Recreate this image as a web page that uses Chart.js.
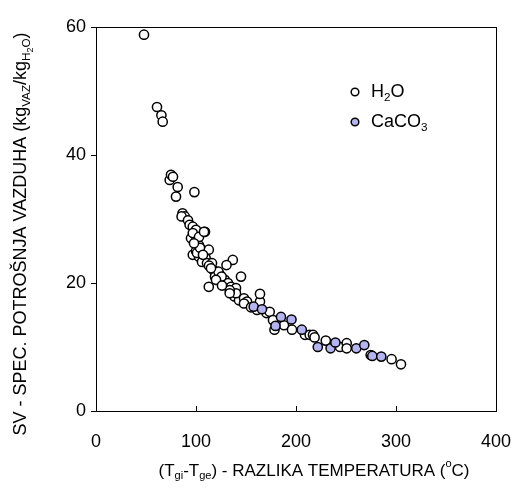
<!DOCTYPE html>
<html>
<head>
<meta charset="utf-8">
<script src="https://cdn.jsdelivr.net/npm/chart.js"></script>
<style>
  html, body { margin: 0; padding: 0; background: #fff; }
  #wrap { width: 531px; height: 495px; }
</style>
</head>
<body>
<div id="wrap"><canvas id="chart" width="531" height="495"></canvas></div>
<script>
// H2O series (x = temperature difference, y = specific air consumption)
const h2oX = [48, 61, 65.4, 66.7, 73.7, 75, 77, 81.7, 80, 98.4,
  86.5, 88.8, 85.6, 92, 93.6, 96.8, 100, 109, 95, 100,
  103, 96.8, 103, 106, 96.8, 103, 109.6, 106, 111, 136.8,
  130.5, 117.6, 120.8, 124, 119, 112.8, 128.8, 132, 135, 140,
  145, 138.5, 143, 140, 112.8, 116, 122.4, 125.6, 133.7, 148,
  151, 164, 164, 161, 170.5, 173.7, 177, 178.5, 188, 196,
  209, 213.7, 217, 218.6, 229.8, 244, 250.7, 250.7, 274.7, 295.6,
  305, 148, 133.7, 100, 101, 104, 107, 98, 113, 115,
  120, 126, 155, 108];
const h2oY = [58.8, 47.5, 46.2, 45.2, 36.1, 36.9, 36.6, 35.0, 33.5, 34.2,
  30.9, 30.4, 30.4, 29.8, 29.1, 28.8, 28.3, 28.0, 27.0, 26.6,
  25.9, 27.8, 27.2, 25.2, 24.4, 24.1, 23.9, 23.3, 23.1, 23.6,
  22.8, 22.0, 21.5, 21.3, 21.0, 19.4, 20.5, 20.0, 19.4, 19.2,
  21.0, 17.9, 17.3, 18.4, 25.2, 23.1, 21.8, 21.0, 18.9, 17.6,
  17.1, 17.1, 18.3, 15.8, 15.3, 15.5, 14.2, 12.7, 13.4, 12.7,
  11.9, 11.9, 11.9, 11.5, 11.0, 10.0, 10.6, 9.8, 8.75, 8.1,
  7.3, 16.8, 18.4, 25.0, 24.7, 25.5, 24.4, 26.2, 22.7, 22.3,
  20.5, 19.6, 16.2, 28.0];

// CaCO3 series
const calcX = [157.7, 166, 179.5, 185, 195.5, 205.8, 221.8, 234.6, 239.4, 260.3, 268.3, 276.3, 285.3];
const calcY = [16.3, 15.9, 13.3, 14.7, 14.3, 12.7, 10.0, 9.8, 10.7, 9.8, 10.3, 8.6, 8.5];

const xTicks = [0, 100, 200, 300, 400];
const yTicks = [0, 20, 40, 60];

// rich text pieces: [text, kind]
const xTitle = [['(T', ''], ['gi', 'sub'], ['-T', ''], ['ge', 'sub'], [') - RAZLIKA TEMPERATURA (', ''], ['o', 'sup'], ['C)', '']];
const yTitle = [['SV - SPEC. POTROŠNJA VAZDUHA (kg', ''], ['VAZ', 'sub'], ['/kg', ''], ['H', 'sub'], ['2', 'subsub'], ['O', 'sub'], [')', '']];
const legendItems = [
  { parts: [['H', ''], ['2', 'sub'], ['O', '']], fill: '#ffffff' },
  { parts: [['CaCO', ''], ['3', 'sub']], fill: '#b4b4f0' }
];

const FONT = '"Liberation Sans", Arial, sans-serif';

function partStyle(kind, size) {
  if (kind === 'sub') return { s: size * 0.65, dy: size * 0.3 };
  if (kind === 'sup') return { s: size * 0.65, dy: -size * 0.42 };
  if (kind === 'subsub') return { s: size * 0.5, dy: size * 0.55 };
  return { s: size, dy: 0 };
}

function richWidth(ctx, parts, size) {
  let w = 0;
  parts.forEach(function(p) {
    const st = partStyle(p[1], size);
    ctx.font = st.s + 'px ' + FONT;
    w += ctx.measureText(p[0]).width;
  });
  return w;
}

function drawRich(ctx, parts, size, x, y) {
  ctx.textBaseline = 'middle';
  ctx.textAlign = 'left';
  let cx = x;
  parts.forEach(function(p) {
    const st = partStyle(p[1], size);
    ctx.font = st.s + 'px ' + FONT;
    ctx.fillText(p[0], cx, y + st.dy);
    cx += ctx.measureText(p[0]).width;
  });
}

const extras = {
  id: 'extras',
  afterDraw(chart) {
    const ctx = chart.ctx;
    const a = chart.chartArea;
    const xs = chart.scales.x;
    ctx.save();
    // frame
    ctx.strokeStyle = '#000';
    ctx.lineWidth = 1;
    ctx.strokeRect(Math.round(a.left) + 0.5, Math.round(a.top) + 0.5, Math.round(a.right - a.left), Math.round(a.bottom - a.top));
    // inside x ticks
    ctx.beginPath();
    xTicks.forEach(function(v) {
      const px = Math.round(xs.getPixelForValue(v)) + 0.5;
      ctx.moveTo(px, a.bottom);
      ctx.lineTo(px, a.bottom - 5);
    });
    ctx.stroke();
    ctx.fillStyle = '#000';
    // x title
    const xw = richWidth(ctx, xTitle, 17);
    drawRich(ctx, xTitle, 17, 314 - xw / 2, 471);
    // y title
    const yw = richWidth(ctx, yTitle, 18);
    ctx.translate(21, 234);
    ctx.rotate(-Math.PI / 2);
    drawRich(ctx, yTitle, 18, -yw / 2, 0);
    ctx.restore();
    // legend
    ctx.save();
    legendItems.forEach(function(it, i) {
      const y = 92 + i * 30;
      ctx.beginPath();
      ctx.arc(355, y, 3.8, 0, Math.PI * 2);
      ctx.fillStyle = it.fill;
      ctx.fill();
      ctx.strokeStyle = '#000';
      ctx.lineWidth = 1.5;
      ctx.stroke();
      ctx.fillStyle = '#000';
      drawRich(ctx, it.parts, 18, 371, y);
    });
    ctx.restore();
  }
};

const ctx = document.getElementById('chart').getContext('2d');
new Chart(ctx, {
  type: 'scatter',
  data: {
    datasets: [
      {
        label: 'H2O',
        data: h2oX.map(function(x, i) { return { x: x, y: h2oY[i] }; }),
        pointRadius: 4.6,
        pointBackgroundColor: '#ffffff',
        pointBorderColor: '#000000',
        pointBorderWidth: 1.5,
        order: 1
      },
      {
        label: 'CaCO3',
        data: calcX.map(function(x, i) { return { x: x, y: calcY[i] }; }),
        pointRadius: 4.6,
        pointBackgroundColor: '#b4b4f0',
        pointBorderColor: '#000000',
        pointBorderWidth: 1.5,
        order: 0
      }
    ]
  },
  options: {
    responsive: false,
    animation: false,
    layout: { padding: { left: 0, top: 27, right: 19, bottom: 0 } },
    plugins: {
      legend: { display: false },
      tooltip: { enabled: false }
    },
    scales: {
      x: {
        type: 'linear',
        min: 0,
        max: 400,
        afterBuildTicks: function(s) { s.ticks = xTicks.map(function(v) { return { value: v }; }); },
        afterFit: function(s) { s.height = 84; },
        grid: { drawOnChartArea: false, drawTicks: false },
        border: { color: '#000' },
        ticks: { color: '#000', padding: 20, font: { family: FONT, size: 18 } }
      },
      y: {
        type: 'linear',
        min: 0,
        max: 60,
        afterBuildTicks: function(s) { s.ticks = yTicks.map(function(v) { return { value: v }; }); },
        afterFit: function(s) { s.width = 96; },
        grid: { drawOnChartArea: false, tickLength: 5, color: '#000' },
        border: { color: '#000' },
        ticks: { color: '#000', padding: 5, font: { family: FONT, size: 18 } }
      }
    }
  },
  plugins: [extras]
});
</script>
</body>
</html>
